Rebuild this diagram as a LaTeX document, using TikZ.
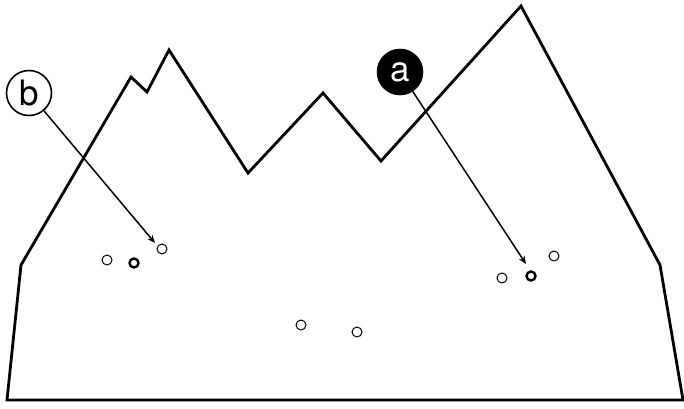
\documentclass[tikz,border=0pt]{standalone}
\usepackage{fontspec}
\setmainfont{TeX Gyre Heros}
\usetikzlibrary{arrows.meta}
\begin{document}
\begin{tikzpicture}[x=1pt,y=-1pt,
  mount/.style={line width=2.8pt,line join=miter},
  dot/.style={circle,draw,line width=1pt,minimum size=10pt,inner sep=0pt},
  bolddot/.style={circle,draw,line width=2.4pt,minimum size=9pt,inner sep=0pt},
  callout/.style={circle,draw,line width=1.6pt,minimum size=45pt,inner sep=0pt,font=\fontsize{35}{35}\selectfont},
  ptr/.style={line width=1.5pt,-{Stealth[length=8pt,width=6.5pt]}}]
\useasboundingbox (0,0) rectangle (684,408);
\draw[mount] (7,400) -- (21,265) -- (131,77) -- (147,92) -- (169,50) -- (248,173) -- (323,93) -- (381,161) -- (521,6) -- (660,265) -- (683,400) -- cycle;
\node[dot] (d1) at (107,260) {};
\node[bolddot] (d2) at (134,263) {};
\node[dot] (d3) at (162,249) {};
\node[dot] (d4) at (502,278) {};
\node[bolddot] (d5) at (531,276) {};
\node[dot] (d6) at (554,256) {};
\node[dot] (d7) at (301,325) {};
\node[dot] (d8) at (357,332) {};
\node[callout,fill=white] (b) at (29,93) {b};
\node[callout,fill=black,text=white] (a) at (400,72) {a};
\coordinate (bt) at (155,243);
\coordinate (at) at (526,264);
\draw[ptr] (b) -- (bt);
\draw[ptr] (a) -- (at);
\end{tikzpicture}
\end{document}
